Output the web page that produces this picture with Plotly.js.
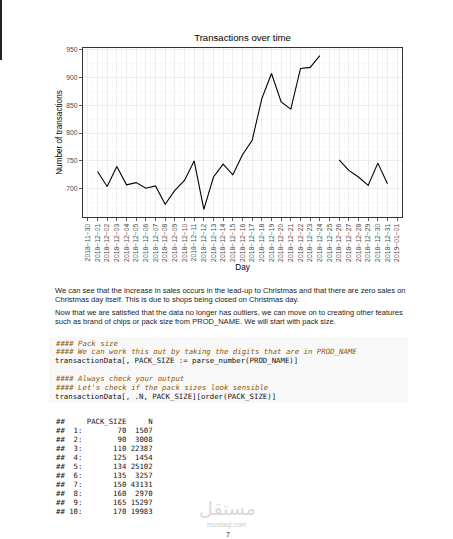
<!DOCTYPE html>
<html>
<head>
<meta charset="utf-8">
<script src="https://cdn.plot.ly/plotly-3.0.1.min.js"></script>
<style>
html,body{margin:0;padding:0;background:#fff;}
#chart{width:453px;height:539px;}
</style>
</head>
<body>
<div id="chart"></div>
<script>
// ---- chart data ----
const days = ["2018-12-01","2018-12-02","2018-12-03","2018-12-04","2018-12-05","2018-12-06","2018-12-07","2018-12-08","2018-12-09","2018-12-10","2018-12-11","2018-12-12","2018-12-13","2018-12-14","2018-12-15","2018-12-16","2018-12-17","2018-12-18","2018-12-19","2018-12-20","2018-12-21","2018-12-22","2018-12-23","2018-12-24","2018-12-25","2018-12-26","2018-12-27","2018-12-28","2018-12-29","2018-12-30","2018-12-31"];
const transactions = [731,704,740,707,711,701,705,672,697,715,750,663,721,744,725,761,787,862,907,856,843,916,918,939,null,752,733,721,706,746,709];
const yTicks = [700,750,800,850,900,950];

// ---- page text ----
const paragraphLines = [
  "We can see that the increase in sales occurs in the lead-up to Christmas and that there are zero sales on",
  "Christmas day itself. This is due to shops being closed on Christmas day.",
  "Now that we are satisfied that the data no longer has outliers, we can move on to creating other features",
  "such as brand of chips or pack size from PROD_NAME. We will start with pack size."
];
const codeLines = [
  "#### Pack size",
  "#### We can work this out by taking the digits that are in PROD_NAME",
  "transactionData[, PACK_SIZE := parse_number(PROD_NAME)]",
  "",
  "#### Always check your output",
  "#### Let's check if the pack sizes look sensible",
  "transactionData[, .N, PACK_SIZE][order(PACK_SIZE)]"
];
const packSizes = [70,90,110,125,134,135,150,160,165,170];
const packCounts = [1507,3008,22387,1454,25102,3257,43131,2970,15297,19983];

// ---- geometry helpers (page pixels -> paper coords) ----
const L = 83, R = 402, T = 48, B = 217;
const px = x => (x - L) / (R - L);
const py = y => (B - y) / (B - T);
const nb = s => s.replace(/ /g, "\u00a0");
const pad = (s, n) => { s = String(s); while (s.length < n) s = " " + s; return s; };

const annotations = [];
function addText(text, x, y, font, xanchor) {
  annotations.push({text: text, x: px(x), y: py(y), xref: "paper", yref: "paper",
    xanchor: xanchor || "left", yanchor: "middle", showarrow: false, font: font, align: "left"});
}

const paraFont = {family: "Liberation Sans, Arial, sans-serif", size: 7.55, color: "#1a1a1a"};
const paraY = [290.8, 299.8, 312.3, 321.3];
paragraphLines.forEach((t, i) => addText(t, 53, paraY[i], paraFont));

const monoFam = "DejaVu Sans Mono, Liberation Mono, monospace";
const codeStart = 343, lineH = 8.95;
codeLines.forEach((t, i) => {
  if (!t) return;
  if (t.startsWith("#")) {
    addText("<i>" + nb(t) + "</i>", 53, codeStart + i * lineH, {family: monoFam, size: 7.35, color: "#8f5902"});
  } else {
    addText(nb(t), 53, codeStart + i * lineH, {family: monoFam, size: 7.35, color: "#111111"});
  }
});

const outFont = {family: monoFam, size: 7.3, color: "#111111"};
const outStart = 421.5;
addText(nb("##     PACK_SIZE     N"), 54, outStart, outFont);
packSizes.forEach((p, i) => {
  const row = "## " + pad((i + 1) + ":", 3) + pad(p, 10) + pad(packCounts[i], 6);
  addText(nb(row), 54, outStart + (i + 1) * lineH, outFont);
});

// watermark and page number
addText("مستقل", 227, 508, {family: "DejaVu Sans, sans-serif", size: 19, color: "#d9d9d9"}, "center");
addText("mostaql.com", 227, 524.5, {family: "Liberation Sans, Arial, sans-serif", size: 7, color: "#cccccc"}, "center");
addText("7", 228, 534.5, {family: "Liberation Sans, Arial, sans-serif", size: 7, color: "#222222"}, "center");

const shapes = [
  {type: "rect", xref: "paper", yref: "paper", x0: px(49), x1: px(408), y0: py(403), y1: py(337),
   fillcolor: "#f8f8f8", line: {width: 0}, layer: "below"},
  {type: "line", xref: "paper", yref: "paper", x0: px(1), x1: px(1), y0: py(0), y1: py(60),
   line: {color: "#222222", width: 2}}
];

const tickFont = {family: "Liberation Sans, Arial, sans-serif", size: 6.8, color: "#4d4d4d"};
const titleFont = {family: "Liberation Sans, Arial, sans-serif", size: 8.2, color: "#000000"};

const trace = {
  type: "scatter", mode: "lines", x: days, y: transactions, connectgaps: false,
  line: {color: "#000000", width: 1.1}, hoverinfo: "x+y"
};

const layout = {
  width: 453, height: 539,
  margin: {l: L, r: 453 - R, t: T, b: 539 - B, pad: 0},
  paper_bgcolor: "#ffffff", plot_bgcolor: "#ffffff",
  showlegend: false,
  title: {text: "Transactions over time", x: px(242.5), xref: "paper", xanchor: "center",
          y: 1 - 37.7 / 539, yref: "container", yanchor: "middle",
          font: {family: "Liberation Sans, Arial, sans-serif", size: 9.6, color: "#000000"}},
  xaxis: {
    type: "date", range: ["2018-11-29 12:00", "2019-01-01 12:00"],
    tick0: "2018-11-30", dtick: 86400000, tickformat: "%Y\u2212%m\u2212%d",
    tickangle: -90, ticks: "outside", ticklen: 3, tickwidth: 0.8, tickcolor: "#333333",
    tickfont: tickFont, showgrid: true, gridcolor: "#ebebeb", gridwidth: 0.9,
    minor: {dtick: 43200000, showgrid: true, gridcolor: "#f3f3f3", gridwidth: 0.5},
    showline: true, mirror: true, linecolor: "#333333", linewidth: 1, zeroline: false,
    automargin: false,
    title: {text: "Day", font: titleFont, standoff: 3}
  },
  yaxis: {
    range: [649.2, 952.8], tickvals: yTicks, ticks: "outside", ticklen: 3, tickwidth: 0.8,
    tickcolor: "#333333", tickfont: tickFont, showgrid: true, gridcolor: "#ebebeb", gridwidth: 0.9,
    minor: {tickvals: [675,725,775,825,875,925], showgrid: true, gridcolor: "#f3f3f3", gridwidth: 0.5},
    showline: true, mirror: true, linecolor: "#333333", linewidth: 1, zeroline: false,
    automargin: false,
    title: {text: "Number of transactions", font: titleFont, standoff: 2}
  },
  annotations: annotations,
  shapes: shapes
};

Plotly.newPlot("chart", [trace], layout, {staticPlot: true, displayModeBar: false});
</script>
</body>
</html>
